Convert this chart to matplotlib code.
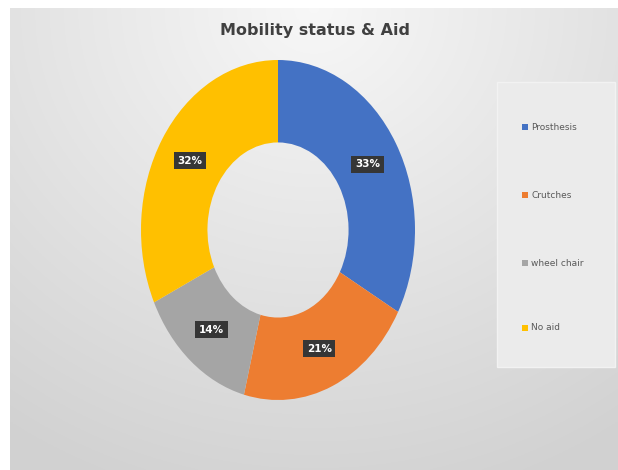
import numpy as np
import matplotlib.pyplot as plt
from matplotlib.patches import Rectangle

# dados do gráfico
categorias = ["Prosthesis", "Crutches", "wheel chair", "No aid"]
valores = [33, 21, 14, 32]
cores = ["#4472C4", "#ED7D31", "#A5A5A5", "#FFC000"]

W, H = 618, 470
fig = plt.figure(figsize=(W / 100, H / 100), dpi=100)
fig.patch.set_facecolor("white")

# fundo com gradiente (estilo Excel)
bg = fig.add_axes([10 / W, 0, 1 - 10 / W, (H - 8) / H])
yy, xx = np.mgrid[0:1:300j, 0:1:400j]
d = np.sqrt(((xx - 0.5) * 1.1) ** 2 + (yy * 0.9) ** 2)
d = np.clip(d, 0, 1)
tom = 0.97 - 0.15 * d
bg.imshow(np.dstack([tom, tom, tom]), aspect="auto", extent=[0, 1, 0, 1], origin="upper")
bg.axis("off")

# caixa da legenda
fig.patches.append(Rectangle((497 / W, 1 - 367 / H), 118 / W, 285 / H,
                             transform=fig.transFigure, facecolor="#ebebeb",
                             edgecolor="#f2f2f2", lw=1, zorder=1))

# donut (elíptico)
ax = fig.add_axes([141 / W, 1 - 400 / H, 274 / W, 340 / H])
fatias, _ = ax.pie(valores, colors=cores, startangle=90, counterclock=False,
                   radius=1, wedgeprops=dict(width=0.485, edgecolor="none"))
ax.set_xlim(-1, 1)
ax.set_ylim(-1, 1)
ax.set_aspect("auto")
ax.axis("off")

total = sum(valores)
ang = 90
for v in valores:
    meio = np.deg2rad(ang - v / total * 180)
    ang -= v / total * 360
    ax.text(0.76 * np.cos(meio), 0.76 * np.sin(meio), f"{v}%", ha="center", va="center",
            color="white", fontsize=7.5, fontweight="bold",
            bbox=dict(boxstyle="square,pad=0.35", fc="#363636", ec="none"))

# título
fig.text(315 / W, 1 - 31 / H, "Mobility status & Aid", ha="center", va="center",
         fontsize=11.5, color="#404040", fontweight="bold")

# legenda
ys = [127, 195, 263, 328]
for nome, cor, y in zip(categorias, cores, ys):
    fig.patches.append(Rectangle((522 / W, 1 - (y + 3) / H), 6 / W, 6 / H,
                                 transform=fig.transFigure, facecolor=cor, zorder=3))
    fig.text(531 / W, 1 - y / H, nome, ha="left", va="center", fontsize=6.5, color="#595959")

plt.savefig("out.png", dpi=100)
